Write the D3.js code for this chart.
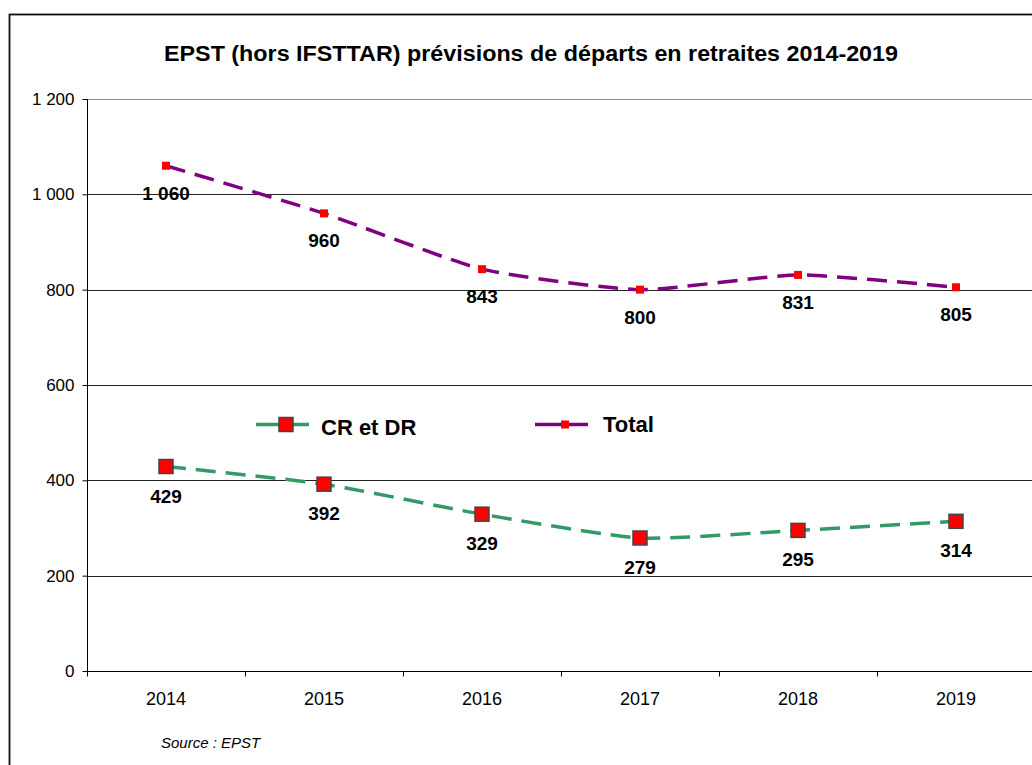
<!DOCTYPE html>
<html>
<head>
<meta charset="utf-8">
<script src="https://cdn.jsdelivr.net/npm/d3@7"></script>
<style>
  body { margin: 0; background: #fff; }
  text { font-family: "Liberation Sans", Arial, sans-serif; }
</style>
</head>
<body>
<div id="chart"></div>
<script>
// data
const years = ["2014", "2015", "2016", "2017", "2018", "2019"];
const crDr = [429, 392, 329, 279, 295, 314];
const total = [1060, 960, 843, 800, 831, 805];
const yTicks = [0, 200, 400, 600, 800, 1000, 1200];

const W = 1032, H = 765;
const FONT = "'Liberation Sans', Arial, sans-serif";
const svg = d3.select("#chart").append("svg")
    .attr("width", W).attr("height", H);

// outer chart border (cut off on the right and bottom)
svg.append("rect")
    .attr("x", 9.5).attr("y", 14.5)
    .attr("width", 1100).attr("height", 800)
    .attr("fill", "#fff").attr("stroke", "#111").attr("stroke-width", 1.8);

const x = d3.scaleBand().domain(years).range([87, 1035]);
const y = d3.scaleLinear().domain([0, 1200]).range([671, 99]);
const fmt = v => d3.format(",")(v).replace(/,/g, " ");

// gridlines
svg.append("g").selectAll("line")
    .data(yTicks.filter(d => d > 0))
    .join("line")
    .attr("x1", 87).attr("x2", W)
    .attr("y1", d => Math.round(y(d)) + 0.5).attr("y2", d => Math.round(y(d)) + 0.5)
    .attr("stroke", d => d === 1200 ? "#888" : "#222").attr("stroke-width", 1);

// y axis
const yAxis = svg.append("g")
    .attr("transform", "translate(87.5,0)")
    .call(d3.axisLeft(y).tickValues(yTicks).tickFormat(fmt).tickSize(5).tickPadding(8));
yAxis.attr("font-family", FONT);
yAxis.selectAll("text").attr("font-size", 17).attr("fill", "#000");
yAxis.selectAll("line, path").attr("stroke", "#000");
yAxis.select(".domain").attr("d", `M0,${y(1200)}V${y(0)}`);

// x axis with ticks at category boundaries
const xg = svg.append("g").attr("transform", `translate(0,${Math.round(y(0)) + 0.5})`);
xg.append("line").attr("x1", 87).attr("x2", W).attr("stroke", "#000");
xg.selectAll(".tk").data(years.concat(["end"]))
    .join("line")
    .attr("x1", (d, i) => Math.round(x.range()[0] + i * x.step()) + 0.5)
    .attr("x2", (d, i) => Math.round(x.range()[0] + i * x.step()) + 0.5)
    .attr("y1", 0).attr("y2", 5).attr("stroke", "#000");
xg.selectAll(".lbl").data(years)
    .join("text")
    .attr("x", d => x(d) + x.bandwidth() / 2)
    .attr("y", 33)
    .attr("text-anchor", "middle")
    .attr("font-size", 18)
    .text(d => d);

const cx = d => x(d) + x.bandwidth() / 2;
const line = d3.line().x(d => cx(d.year)).y(d => y(d.v)).curve(d3.curveCardinal.tension(0.45));

const series = [
    {name: "CR et DR", values: crDr, color: "#339966", marker: 14, mstroke: "#444", off: 36},
    {name: "Total", values: total, color: "#800080", marker: 8, mstroke: "none", off: 34}
];

series.forEach(s => {
    const pts = years.map((yr, i) => ({year: yr, v: s.values[i]}));
    svg.append("path")
        .datum(pts)
        .attr("d", line)
        .attr("fill", "none")
        .attr("stroke", s.color)
        .attr("stroke-width", 3.5)
        .attr("stroke-dasharray", "20,10");
    svg.append("g").selectAll("rect")
        .data(pts)
        .join("rect")
        .attr("x", d => cx(d.year) - s.marker / 2)
        .attr("y", d => y(d.v) - s.marker / 2)
        .attr("width", s.marker).attr("height", s.marker)
        .attr("fill", "#ff0000")
        .attr("stroke", s.mstroke).attr("stroke-width", 1.5);
    svg.append("g").selectAll("text")
        .data(pts)
        .join("text")
        .attr("x", d => cx(d.year))
        .attr("y", d => y(d.v) + s.off)
        .attr("text-anchor", "middle")
        .attr("font-size", 19)
        .attr("font-weight", "bold")
        .text(d => fmt(d.v));
});

// legend
const legend = [
    {s: series[0], x: 256, tx: 321, ty: 435},
    {s: series[1], x: 535, tx: 603, ty: 432}
];
legend.forEach(l => {
    const g = svg.append("g").attr("transform", `translate(${l.x},424.5)`);
    g.append("line").attr("x1", 0).attr("x2", 53).attr("stroke", l.s.color).attr("stroke-width", 3.5);
    g.append("rect")
        .attr("x", 30 - l.s.marker / 2).attr("y", -l.s.marker / 2)
        .attr("width", l.s.marker).attr("height", l.s.marker)
        .attr("fill", "#ff0000").attr("stroke", l.s.mstroke).attr("stroke-width", 1.5);
    svg.append("text")
        .attr("x", l.tx).attr("y", l.ty)
        .attr("font-size", 22).attr("font-weight", "bold")
        .text(l.s.name);
});

// title and source
svg.append("text")
    .attr("x", 531).attr("y", 61)
    .attr("text-anchor", "middle")
    .attr("font-size", 22).attr("font-weight", "bold")
    .attr("textLength", 734).attr("lengthAdjust", "spacingAndGlyphs")
    .text("EPST (hors IFSTTAR) prévisions de départs en retraites 2014-2019");

svg.append("text")
    .attr("x", 161).attr("y", 748)
    .attr("font-size", 15).attr("font-style", "italic")
    .text("Source : EPST");
</script>
</body>
</html>
